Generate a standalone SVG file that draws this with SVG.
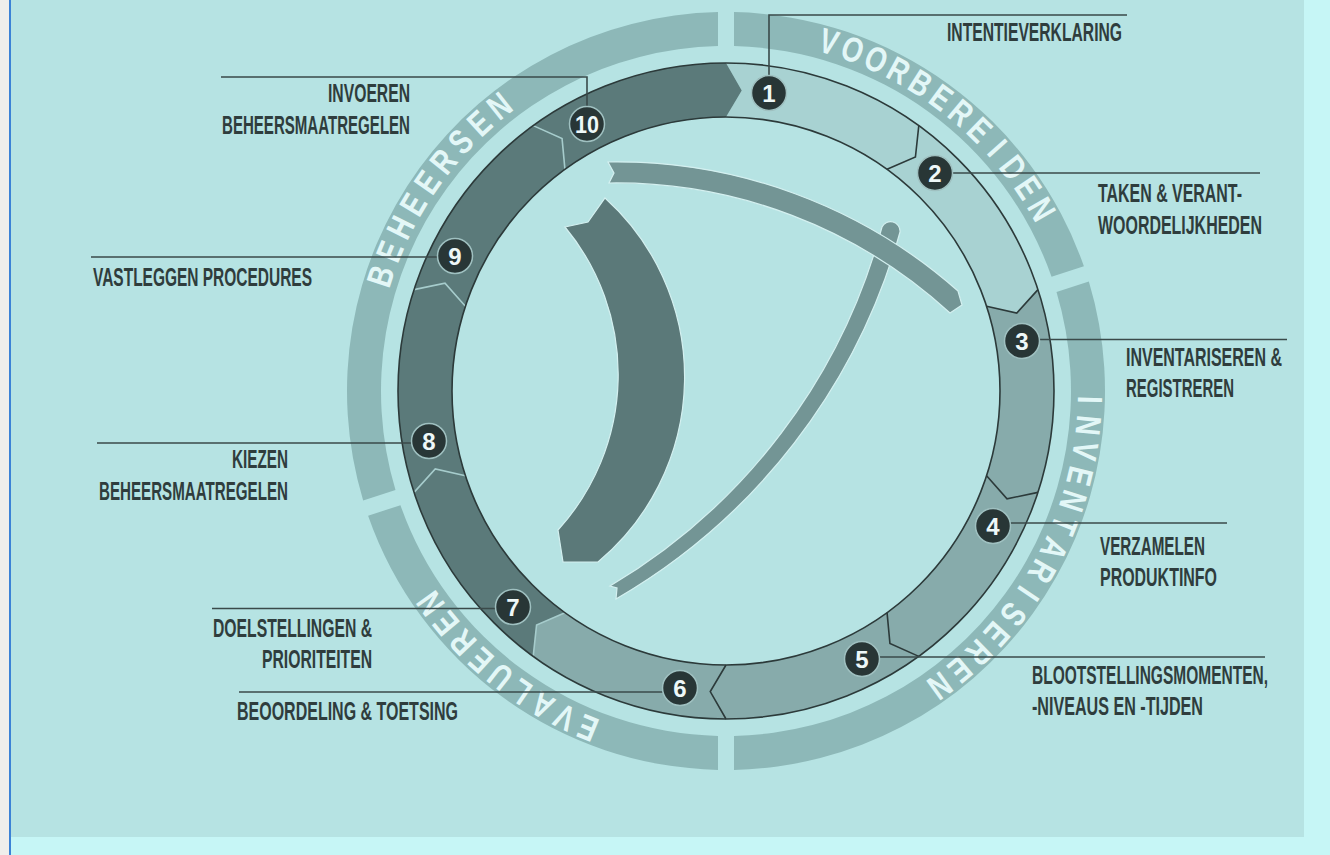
<svg xmlns="http://www.w3.org/2000/svg" xmlns:xlink="http://www.w3.org/1999/xlink" width="1330" height="855" viewBox="0 0 1330 855">
<style>
.cat{fill:#8db8b8}
.cl{font-family:"Liberation Sans",Arial,sans-serif;font-weight:bold;font-size:35px;fill:#e3f7f7;text-anchor:middle}
.s1{fill:#a8d2d2}
.s2{fill:#87abab}
.s3{fill:#5b7a7a}
.edge{fill:none;stroke:#2c3a3a;stroke-width:1.6}
.bd{fill:none;stroke:#2c3a3a;stroke-width:1.6}
.bl{fill:none;stroke:#a6cccc;stroke-width:1.6}
.lead{fill:none;stroke:#3a4a4a;stroke-width:1.6}
.lbl{font-family:"Liberation Sans Narrow","Liberation Sans",Arial,sans-serif;font-weight:bold;font-size:25px;fill:#2f3d3d}
.bc{fill:#283636;stroke:#9fc0c0;stroke-width:1.5}
.bn{font-family:"Liberation Sans",Arial,sans-serif;font-weight:bold;font-size:24px;fill:#eef8f8;text-anchor:middle}
.arc{fill:#739595;stroke:#d4f0f0;stroke-width:1.2}
.big{fill:#5b7979;stroke:#d4f0f0;stroke-width:1.2}
</style>
<defs>
<path id="seg" d="M328,0 A328,328 0 0 1 265.36,192.79 L233.92,189.43 L221.67,161.05 A274,274 0 0 0 274,0 L300.59,15.75 Z"/>
<polyline id="bnd" points="328,0 300.59,15.75 274,0"/>
</defs>

<g id="background">
<rect x="0" y="0" width="1330" height="855" fill="#c6f6f6"/>
<rect x="11" y="0" width="1293" height="837" fill="#b6e3e3"/>
<rect x="0" y="0" width="9" height="855" fill="#efeeec"/>
<rect x="9" y="0" width="2" height="855" fill="#3b82d6"/>
</g>

<g id="category-ring" transform="translate(726 391)">
<path class="cat" d="M8,-378.92 A379,379 0 0 1 357.9,-124.71 L325.55,-114.2 A345,345 0 0 0 8.01,-344.91 Z"/>
<path class="cat" d="M362.84,-109.48 A379,379 0 0 1 8,378.92 L8.01,344.91 A345,345 0 0 0 330.5,-98.96 Z"/>
<path class="cat" d="M-8,378.92 A379,379 0 0 1 -357.9,124.71 L-325.55,114.2 A345,345 0 0 0 -8.01,344.91 Z"/>
<path class="cat" d="M-362.84,109.48 A379,379 0 0 1 -8,-378.92 L-8.01,-344.91 A345,345 0 0 0 -330.5,98.96 Z"/>
<g id="lbl-voorbereiden">
<text class="cl" transform="rotate(16.4) translate(0 -352) scale(0.78 1)">V</text>
<text class="cl" transform="rotate(20.37) translate(0 -352) scale(0.78 1)">O</text>
<text class="cl" transform="rotate(24.34) translate(0 -352) scale(0.78 1)">O</text>
<text class="cl" transform="rotate(28.31) translate(0 -352) scale(0.78 1)">R</text>
<text class="cl" transform="rotate(32.28) translate(0 -352) scale(0.78 1)">B</text>
<text class="cl" transform="rotate(36.25) translate(0 -352) scale(0.78 1)">E</text>
<text class="cl" transform="rotate(40.22) translate(0 -352) scale(0.78 1)">R</text>
<text class="cl" transform="rotate(44.19) translate(0 -352) scale(0.78 1)">E</text>
<text class="cl" transform="rotate(48.16) translate(0 -352) scale(0.78 1)">I</text>
<text class="cl" transform="rotate(52.13) translate(0 -352) scale(0.78 1)">D</text>
<text class="cl" transform="rotate(56.1) translate(0 -352) scale(0.78 1)">E</text>
<text class="cl" transform="rotate(60.07) translate(0 -352) scale(0.78 1)">N</text>
</g>
<g id="lbl-inventariseren">
<text class="cl" transform="rotate(91.4) translate(0 -352) scale(0.78 1)">I</text>
<text class="cl" transform="rotate(95.45) translate(0 -352) scale(0.78 1)">N</text>
<text class="cl" transform="rotate(99.5) translate(0 -352) scale(0.78 1)">V</text>
<text class="cl" transform="rotate(103.55) translate(0 -352) scale(0.78 1)">E</text>
<text class="cl" transform="rotate(107.6) translate(0 -352) scale(0.78 1)">N</text>
<text class="cl" transform="rotate(111.65) translate(0 -352) scale(0.78 1)">T</text>
<text class="cl" transform="rotate(115.7) translate(0 -352) scale(0.78 1)">A</text>
<text class="cl" transform="rotate(119.75) translate(0 -352) scale(0.78 1)">R</text>
<text class="cl" transform="rotate(123.8) translate(0 -352) scale(0.78 1)">I</text>
<text class="cl" transform="rotate(127.85) translate(0 -352) scale(0.78 1)">S</text>
<text class="cl" transform="rotate(131.9) translate(0 -352) scale(0.78 1)">E</text>
<text class="cl" transform="rotate(135.95) translate(0 -352) scale(0.78 1)">R</text>
<text class="cl" transform="rotate(140) translate(0 -352) scale(0.78 1)">E</text>
<text class="cl" transform="rotate(144.05) translate(0 -352) scale(0.78 1)">N</text>
</g>
<g id="lbl-evalueren">
<text class="cl" transform="rotate(202.3) translate(0 -352) scale(0.78 1)">E</text>
<text class="cl" transform="rotate(206.3) translate(0 -352) scale(0.78 1)">V</text>
<text class="cl" transform="rotate(210.3) translate(0 -352) scale(0.78 1)">A</text>
<text class="cl" transform="rotate(214.3) translate(0 -352) scale(0.78 1)">L</text>
<text class="cl" transform="rotate(218.3) translate(0 -352) scale(0.78 1)">U</text>
<text class="cl" transform="rotate(222.3) translate(0 -352) scale(0.78 1)">E</text>
<text class="cl" transform="rotate(226.3) translate(0 -352) scale(0.78 1)">R</text>
<text class="cl" transform="rotate(230.3) translate(0 -352) scale(0.78 1)">E</text>
<text class="cl" transform="rotate(234.3) translate(0 -352) scale(0.78 1)">N</text>
</g>
<g id="lbl-beheersen">
<text class="cl" transform="rotate(288.4) translate(0 -352) scale(0.78 1)">B</text>
<text class="cl" transform="rotate(292.54) translate(0 -352) scale(0.78 1)">E</text>
<text class="cl" transform="rotate(296.68) translate(0 -352) scale(0.78 1)">H</text>
<text class="cl" transform="rotate(300.82) translate(0 -352) scale(0.78 1)">E</text>
<text class="cl" transform="rotate(304.96) translate(0 -352) scale(0.78 1)">E</text>
<text class="cl" transform="rotate(309.1) translate(0 -352) scale(0.78 1)">R</text>
<text class="cl" transform="rotate(313.24) translate(0 -352) scale(0.78 1)">S</text>
<text class="cl" transform="rotate(317.38) translate(0 -352) scale(0.78 1)">E</text>
<text class="cl" transform="rotate(321.52) translate(0 -352) scale(0.78 1)">N</text>
</g>
</g>

<g id="step-ring" transform="translate(726 391)">
<use xlink:href="#seg" class="s1" transform="rotate(-90)"/>
<use xlink:href="#seg" class="s1" transform="rotate(-54)"/>
<use xlink:href="#seg" class="s2" transform="rotate(-18)"/>
<use xlink:href="#seg" class="s2" transform="rotate(18)"/>
<use xlink:href="#seg" class="s2" transform="rotate(54)"/>
<use xlink:href="#seg" class="s2" transform="rotate(90)"/>
<use xlink:href="#seg" class="s3" transform="rotate(126)"/>
<use xlink:href="#seg" class="s3" transform="rotate(162)"/>
<use xlink:href="#seg" class="s3" transform="rotate(198)"/>
<use xlink:href="#seg" class="s3" transform="rotate(234)"/>
<use xlink:href="#bnd" class="bd" transform="rotate(-54)"/>
<use xlink:href="#bnd" class="bd" transform="rotate(-18)"/>
<use xlink:href="#bnd" class="bd" transform="rotate(18)"/>
<use xlink:href="#bnd" class="bd" transform="rotate(54)"/>
<use xlink:href="#bnd" class="bd" transform="rotate(90)"/>
<use xlink:href="#bnd" class="bl" transform="rotate(126)"/>
<use xlink:href="#bnd" class="bl" transform="rotate(162)"/>
<use xlink:href="#bnd" class="bl" transform="rotate(198)"/>
<use xlink:href="#bnd" class="bl" transform="rotate(234)"/>
<circle class="edge" cx="0" cy="0" r="328"/>
<circle class="edge" cx="0" cy="0" r="274"/>
</g>

<g id="center-arrows">
<path class="arc" d="M882,227 A9.5,9.5 0 0 1 900,232 A614,614 0 0 1 616,599 L617,588 L610,586 A596,596 0 0 0 882,227 Z"/>
<path class="arc" d="M608,162 A515,515 0 0 1 958,291 L962,305 L950,313 A494,494 0 0 0 609,183 L614,173 Z"/>
<path class="big" d="M565,227 L588,222 L605,198 A241,241 0 0 1 598,562 L563,562 L558,530 A231,231 0 0 0 565,227 Z"/>
</g>

<g id="connectors">
<path class="lead" d="M769,93 V15 H1127"/>
<path class="lead" d="M935,173 H1260"/>
<path class="lead" d="M1022,339.5 H1287"/>
<path class="lead" d="M993,523 H1227"/>
<path class="lead" d="M862,657 H1265"/>
<path class="lead" d="M680,692 H239"/>
<path class="lead" d="M513,608.5 H212"/>
<path class="lead" d="M429,443 H97"/>
<path class="lead" d="M455,257 H91"/>
<path class="lead" d="M587,124 V77 H221"/>
</g>

<g id="step1"><circle class="bc" cx="769" cy="93" r="17.5"/><text class="bn" x="769" y="101.6">1</text>
<text class="lbl" x="947" y="41" textLength="175" lengthAdjust="spacingAndGlyphs">INTENTIEVERKLARING</text></g>
<g id="step2"><circle class="bc" cx="935" cy="173" r="17.5"/><text class="bn" x="935" y="181.6">2</text>
<text class="lbl" x="1098" y="202" textLength="144" lengthAdjust="spacingAndGlyphs">TAKEN &amp; VERANT-</text>
<text class="lbl" x="1098" y="234" textLength="164" lengthAdjust="spacingAndGlyphs">WOORDELIJKHEDEN</text></g>
<g id="step3"><circle class="bc" cx="1022" cy="341" r="17.5"/><text class="bn" x="1022" y="349.6">3</text>
<text class="lbl" x="1126" y="366" textLength="156" lengthAdjust="spacingAndGlyphs">INVENTARISEREN &amp;</text>
<text class="lbl" x="1126" y="397" textLength="108" lengthAdjust="spacingAndGlyphs">REGISTREREN</text></g>
<g id="step4"><circle class="bc" cx="993" cy="526" r="17.5"/><text class="bn" x="993" y="534.6">4</text>
<text class="lbl" x="1100" y="555" textLength="105" lengthAdjust="spacingAndGlyphs">VERZAMELEN</text>
<text class="lbl" x="1100" y="586" textLength="117" lengthAdjust="spacingAndGlyphs">PRODUKTINFO</text></g>
<g id="step5"><circle class="bc" cx="862" cy="659" r="17.5"/><text class="bn" x="862" y="667.6">5</text>
<text class="lbl" x="1032" y="684" textLength="236" lengthAdjust="spacingAndGlyphs">BLOOTSTELLINGSMOMENTEN,</text>
<text class="lbl" x="1032" y="715" textLength="171" lengthAdjust="spacingAndGlyphs">-NIVEAUS EN -TIJDEN</text></g>
<g id="step6"><circle class="bc" cx="680" cy="688" r="17.5"/><text class="bn" x="680" y="696.6">6</text>
<text class="lbl" x="237" y="720" textLength="221" lengthAdjust="spacingAndGlyphs">BEOORDELING &amp; TOETSING</text></g>
<g id="step7"><circle class="bc" cx="513" cy="607" r="17.5"/><text class="bn" x="513" y="615.6">7</text>
<text class="lbl" x="213" y="637" textLength="159" lengthAdjust="spacingAndGlyphs">DOELSTELLINGEN &amp;</text>
<text class="lbl" x="262" y="668" textLength="110" lengthAdjust="spacingAndGlyphs">PRIORITEITEN</text></g>
<g id="step8"><circle class="bc" cx="429" cy="441" r="17.5"/><text class="bn" x="429" y="449.6">8</text>
<text class="lbl" x="232" y="468" textLength="56" lengthAdjust="spacingAndGlyphs">KIEZEN</text>
<text class="lbl" x="99" y="500" textLength="189" lengthAdjust="spacingAndGlyphs">BEHEERSMAATREGELEN</text></g>
<g id="step9"><circle class="bc" cx="455" cy="256" r="17.5"/><text class="bn" x="455" y="264.6">9</text>
<text class="lbl" x="93" y="286" textLength="219" lengthAdjust="spacingAndGlyphs">VASTLEGGEN PROCEDURES</text></g>
<g id="step10"><circle class="bc" cx="587" cy="124" r="17.5"/><text class="bn" x="587" y="132.6" textLength="24" lengthAdjust="spacingAndGlyphs">10</text>
<text class="lbl" x="328" y="102" textLength="82" lengthAdjust="spacingAndGlyphs">INVOEREN</text>
<text class="lbl" x="222" y="134" textLength="188" lengthAdjust="spacingAndGlyphs">BEHEERSMAATREGELEN</text></g>
</svg>
